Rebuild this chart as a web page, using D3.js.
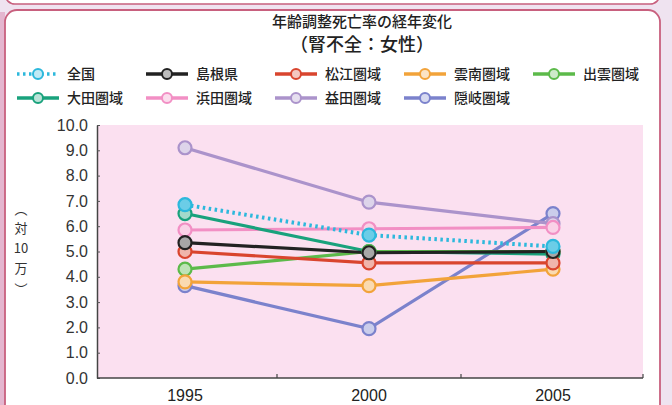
<!DOCTYPE html>
<html>
<head>
<meta charset="utf-8">
<script src="https://cdn.jsdelivr.net/npm/d3@7"></script>
<style>
  html, body { margin: 0; padding: 0; background: #f1e2ee; }
  svg { display: block; }
</style>
</head>
<body>
<svg id="chart" width="672" height="405"></svg>
<script>
// Age-adjusted mortality (renal failure, female), per 100,000
const years = ["1995", "2000", "2005"];
const seriesNames = ["全国", "島根県", "松江圏域", "雲南圏域", "出雲圏域", "大田圏域", "浜田圏域", "益田圏域", "隠岐圏域"];
const zenkoku   = [6.85, 5.65, 5.2];
const shimane   = [5.35, 4.95, 5.0];
const matsue    = [5.0, 4.55, 4.55];
const unnan     = [3.8, 3.65, 4.3];
const izumo     = [4.3, 5.0, 5.0];
const oda       = [6.5, 5.0, 4.9];
const hamada    = [5.85, 5.9, 5.95];
const masuda    = [9.1, 6.95, 6.1];
const oki       = [3.65, 1.95, 6.5];
const yTicks = [0, 1, 2, 3, 4, 5, 6, 7, 8, 9, 10];
const colors = ["#2cb8dc", "#222222", "#d9452e", "#f2a33a", "#5cba4a", "#19a27c", "#f28fc4", "#ab93cb", "#7b82cc"];

const seriesValues = [zenkoku, shimane, matsue, unnan, izumo, oda, hamada, masuda, oki];
const series = seriesNames.map((name, i) => ({ name, values: seriesValues[i], color: colors[i], dotted: i === 0 }));

const svg = d3.select("#chart");

// frame: lower edge of the box above, then the main rounded panel
svg.append("rect").attr("x", 0).attr("y", 0).attr("width", 672).attr("height", 405).attr("fill", "#efe3f0");
svg.append("rect").attr("x", -2).attr("y", 12).attr("width", 7).attr("height", 400).attr("fill", "#e4b6cf");
svg.append("rect").attr("x", 5).attr("y", -40).attr("width", 655).attr("height", 44).attr("rx", 10)
  .attr("fill", "#ffffff").attr("stroke", "#c8607e").attr("stroke-width", 1.6);
svg.append("rect").attr("x", 5).attr("y", 10).attr("width", 655).attr("height", 410).attr("rx", 12)
  .attr("fill", "#ffffff").attr("stroke", "#c8607e").attr("stroke-width", 1.8);

const x = d3.scaleBand().domain(years).range([93, 645]).paddingInner(0).paddingOuter(0);
const y = d3.scaleLinear().domain([0, 10]).range([378, 125]);
const cx = d => x(d) + x.bandwidth() / 2;

// plot background
svg.append("rect").attr("x", 97).attr("y", y(10)).attr("width", 643 - 97).attr("height", y(0) - y(10))
  .attr("fill", "#fbe0f0");

// titles
svg.append("text").attr("x", 362).attr("y", 27).attr("text-anchor", "middle")
  .attr("font-family", "'Noto Sans CJK JP'").attr("font-size", 15).attr("font-weight", 500).attr("fill", "#222")
  .text("年齢調整死亡率の経年変化");
svg.append("text").attr("x", 362).attr("y", 51).attr("text-anchor", "middle")
  .attr("font-family", "'Noto Sans CJK JP'").attr("font-size", 18).attr("font-weight", 500).attr("fill", "#222")
  .text("（腎不全：女性）");

// legend
const legendPos = [[17, 74], [146, 74], [275, 74], [404, 74], [533, 74], [17, 98], [146, 98], [275, 98], [404, 98]];
const legend = svg.append("g");
series.forEach((s, i) => {
  const [lx, ly] = legendPos[i];
  const g = legend.append("g").attr("transform", `translate(${lx},${ly})`);
  g.append("line").attr("x1", 0).attr("x2", 42).attr("y1", 0).attr("y2", 0)
    .attr("stroke", s.color).attr("stroke-width", 3.5)
    .attr("stroke-dasharray", s.dotted ? "2.5,3.5" : null);
  g.append("circle").attr("cx", 21).attr("cy", 0).attr("r", 5)
    .attr("fill", d3.interpolateRgb(s.color, "#fff")(0.7)).attr("stroke", s.color).attr("stroke-width", 2);
  g.append("text").attr("x", 50).attr("y", 5)
    .attr("font-family", "'Noto Sans CJK JP'").attr("font-size", 14).attr("font-weight", 500).attr("fill", "#222")
    .text(s.name);
});

// y axis
const yAxis = d3.axisLeft(y).tickValues(yTicks).tickFormat(d3.format(".1f"))
  .tickSizeInner(-3).tickSizeOuter(0).tickPadding(9);
const gy = svg.append("g").attr("transform", "translate(97,0)").call(yAxis);
gy.selectAll("text").attr("font-family", "'Liberation Sans', Arial, sans-serif").attr("font-size", 16).attr("fill", "#333");
gy.selectAll("line").attr("stroke", "#555");
gy.select(".domain").attr("stroke", "#444").attr("stroke-width", 1.5);

// y axis title, set vertically
const yTitle = svg.append("g").attr("font-family", "'Noto Sans CJK JP'").attr("font-size", 13).attr("fill", "#333")
  .attr("text-anchor", "middle");
[["︵", 214], ["対", 233], ["10", 253], ["万", 273], ["︶", 294]].forEach(([t, ty]) => {
  yTitle.append("text").attr("x", 21).attr("y", ty).text(t);
});

// x axis
const xAxis = d3.axisBottom(x).tickSize(0).tickPadding(12);
const gx = svg.append("g").attr("transform", `translate(0,${y(0)})`).call(xAxis);
gx.select(".domain").remove();
gx.selectAll("text").attr("font-family", "'Liberation Sans', Arial, sans-serif").attr("font-size", 16).attr("fill", "#222");
svg.append("line").attr("x1", 97).attr("x2", 643).attr("y1", y(0)).attr("y2", y(0))
  .attr("stroke", "#444").attr("stroke-width", 1.5);
svg.selectAll("line.band-tick").data(years).enter().append("line").attr("class", "band-tick")
  .attr("x1", d => Math.min(x(d) + x.bandwidth(), 643)).attr("x2", d => Math.min(x(d) + x.bandwidth(), 643))
  .attr("y1", y(0)).attr("y2", y(0) - 4).attr("stroke", "#444").attr("stroke-width", 1.2);

// lines and markers (national average drawn last, on top)
const line = d3.line().x((d, i) => cx(years[i])).y(d => y(d));
const drawOrder = [8, 7, 6, 5, 4, 3, 2, 1, 0];
const plot = svg.append("g");
drawOrder.forEach(i => {
  const s = series[i];
  plot.append("path").datum(s.values).attr("d", line).attr("fill", "none")
    .attr("stroke", s.color).attr("stroke-width", s.dotted ? 4 : 3.2)
    .attr("stroke-dasharray", s.dotted ? "2.5,3.5" : null);
});
drawOrder.forEach(i => {
  const s = series[i];
  plot.selectAll(null).data(s.values).enter().append("circle")
    .attr("cx", (d, j) => cx(years[j])).attr("cy", d => y(d)).attr("r", 6.5)
    .attr("fill", d3.interpolateRgb(s.color, "#fff")(s.dotted ? 0.3 : 0.6))
    .attr("stroke", s.color).attr("stroke-width", 2.2);
});
</script>
</body>
</html>
